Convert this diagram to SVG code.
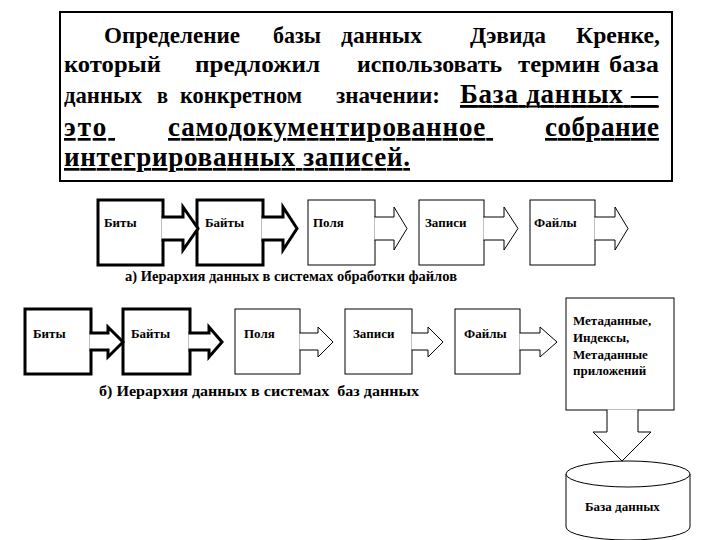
<svg xmlns="http://www.w3.org/2000/svg" width="720" height="540" viewBox="0 0 720 540">
<style>
.t{font-family:"Liberation Serif","DejaVu Serif",serif;font-weight:bold;fill:#000}
.big{font-size:23px}
.bigger{font-size:27px;text-decoration:underline}
.lbl{font-size:13px}
.cap{font-size:14px}
.box{fill:#fff;stroke:#000}
.thick{stroke-width:3}
.thin{stroke-width:1}
.arr{fill:#fff;stroke:#000;stroke-linejoin:miter}
</style>
<rect width="720" height="540" fill="#fff"/>
<g id="definition">
<rect x="60" y="12" width="612" height="169" fill="#fff" stroke="#000" stroke-width="2"/>
<g class="t big">
<text x="104" y="43" textLength="136" lengthAdjust="spacingAndGlyphs">Определение</text>
<text x="273" y="43" textLength="48" lengthAdjust="spacingAndGlyphs">базы</text>
<text x="341" y="43" textLength="81" lengthAdjust="spacingAndGlyphs">данных</text>
<text x="470" y="43" textLength="76" lengthAdjust="spacingAndGlyphs">Дэвида</text>
<text x="576" y="43" textLength="84" lengthAdjust="spacingAndGlyphs">Кренке,</text>
<text x="64" y="72" textLength="97" lengthAdjust="spacingAndGlyphs">который</text>
<text x="195" y="72" textLength="125" lengthAdjust="spacingAndGlyphs">предложил</text>
<text x="357" y="72" textLength="145" lengthAdjust="spacingAndGlyphs">использовать</text>
<text x="518" y="72" textLength="82" lengthAdjust="spacingAndGlyphs">термин</text>
<text x="609" y="72" textLength="50" lengthAdjust="spacingAndGlyphs">база</text>
<text x="64" y="103" textLength="78" lengthAdjust="spacingAndGlyphs">данных</text>
<text x="157" y="103" textLength="11" lengthAdjust="spacingAndGlyphs">в</text>
<text x="180" y="103" textLength="122" lengthAdjust="spacingAndGlyphs">конкретном</text>
<text x="336" y="103" textLength="104" lengthAdjust="spacingAndGlyphs">значении:</text>
</g>
<g class="t bigger">
<text x="460" y="103" textLength="198" lengthAdjust="spacing" text-decoration="none" style="text-decoration:none">База данных —</text>
<line x1="460" y1="106.5" x2="659" y2="106.5" stroke="#000" stroke-width="2.2"/>
<text x="64" y="136" textLength="51" lengthAdjust="spacing">это&#160;</text>
<text x="168" y="136" textLength="325" lengthAdjust="spacing">самодокументированное&#160;</text>
<text x="545" y="136" textLength="114" lengthAdjust="spacing">собрание</text>
<text x="64" y="166" textLength="346" lengthAdjust="spacing">интегрированных записей.</text>
</g>
</g>
<g id="row-a">
<g id="a-bits"><rect class="box thick" x="98" y="200" width="65" height="65"/><text class="t lbl" x="104" y="227">Биты</text></g>
<g id="a-bytes"><rect class="box thick" x="197" y="200" width="66" height="65"/><text class="t lbl" x="205" y="227">Байты</text></g>
<g id="a-fields"><rect class="box thin" x="308" y="200" width="67" height="65"/><text class="t lbl" x="313" y="227">Поля</text></g>
<g id="a-records"><rect class="box thin" x="419" y="200" width="65" height="65"/><text class="t lbl" x="425" y="227">Записи</text></g>
<g id="a-files"><rect class="box thin" x="530" y="200" width="65" height="65"/><text class="t lbl" x="534" y="227">Файлы</text></g>
<text id="caption-a" class="t cap" x="125" y="281" textLength="332" lengthAdjust="spacingAndGlyphs">а) Иерархия данных в системах обработки файлов</text>
</g>
<g id="row-b">
<g id="b-bits"><rect class="box thick" x="25" y="309" width="66" height="65"/><text class="t lbl" x="33" y="338">Биты</text></g>
<g id="b-bytes"><rect class="box thick" x="123" y="309" width="67" height="65"/><text class="t lbl" x="131" y="338">Байты</text></g>
<g id="b-fields"><rect class="box thin" x="235" y="309" width="65" height="65"/><text class="t lbl" x="244" y="338">Поля</text></g>
<g id="b-records"><rect class="box thin" x="345" y="309" width="67" height="65"/><text class="t lbl" x="353" y="338">Записи</text></g>
<g id="b-files"><rect class="box thin" x="455" y="309" width="65" height="65"/><text class="t lbl" x="464" y="338">Файлы</text></g>
<g id="b-meta"><rect class="box thin" x="566" y="298" width="108" height="112"/>
<text class="t lbl"><tspan x="573" y="325">Метаданные,</tspan><tspan x="573" y="342">Индексы,</tspan><tspan x="573" y="359">Метаданные</tspan><tspan x="573" y="375">приложений</tspan></text></g>
<g id="b-db">
<path class="box thin" d="M566,474 V527 A62,13 0 0 0 690,527 V474"/>
<ellipse class="box thin" cx="628" cy="474" rx="62" ry="13"/>
<text class="t lbl" x="585" y="511">База данных</text>
</g>
<text id="caption-b" class="t cap" x="99" y="396" textLength="320" lengthAdjust="spacingAndGlyphs" xml:space="preserve">б) Иерархия данных в системах  баз данных</text>
</g>
<g id="connectors">
<path class="arr thick" d="M161.5,217 H183 V207 L198,228.5 L183,250 V240 H161.5"/>
<path class="arr thick" d="M261.5,217 H283 V207 L297,228.5 L283,250 V240 H261.5"/>
<path class="arr thin" d="M374.5,217 H394 V207 L407,228.5 L394,250 V240 H374.5"/>
<path class="arr thin" d="M483.5,217 H504 V207 L518,228.5 L504,250 V240 H483.5"/>
<path class="arr thin" d="M594.5,217 H615 V207 L628,228.5 L615,250 V240 H594.5"/>
<path class="arr thick" d="M89.5,333 H108 V327 L123,342 L108,357 V350 H89.5"/>
<path class="arr thick" d="M188.5,333 H209 V327 L222,342 L209,357 V350 H188.5"/>
<path class="arr thin" d="M299.5,333 H318 V327 L333,342 L318,357 V350 H299.5"/>
<path class="arr thin" d="M411.5,333 H428 V327 L443,342 L428,357 V350 H411.5"/>
<path class="arr thin" d="M519.5,333 H540 V327 L557,342 L540,357 V350 H519.5"/>
<path class="arr thin" d="M607,409.5 V432 H593 L622,461 L651,432 H638 V409.5"/>
</g>
</svg>
